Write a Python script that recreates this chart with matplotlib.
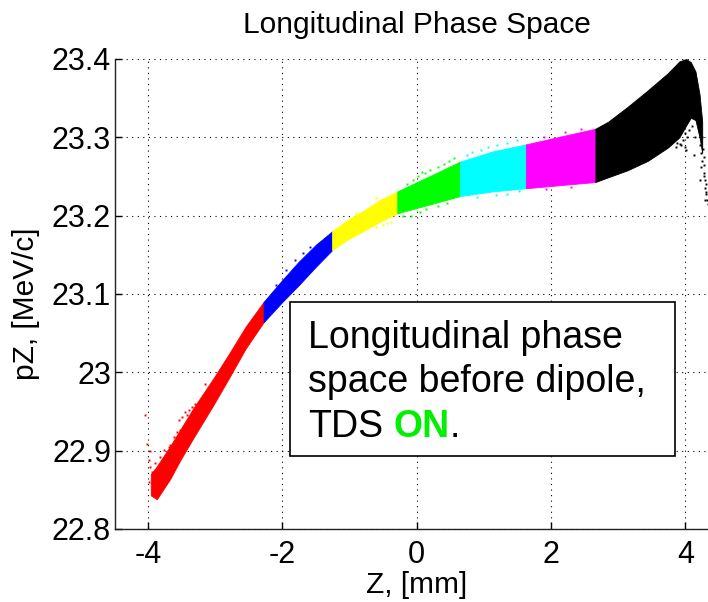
import numpy as np
import matplotlib
matplotlib.use("Agg")
import matplotlib.pyplot as plt
from matplotlib.patches import Rectangle

plt.rcParams['font.family'] = ['Liberation Sans', 'DejaVu Sans']

# Beam slices along Z [mm] and their colours
slice_edges = [-3.96, -2.28, -1.26, -0.29, 0.645, 1.625, 2.66, 4.25]
slice_colors = ['#ff0000', '#0000ff', '#ffff00', '#00ff00', '#00ffff', '#ff00ff', '#000000']

# Envelope of the particle cloud: Z [mm], lower / upper pZ [MeV/c]
env_z = [-3.96, -3.87, -3.67, -3.52, -3.32, -3.03, -2.80, -2.55, -2.28,
         -2.00, -1.76, -1.50, -1.26, -1.02, -0.78, -0.55, -0.29, 0.18,
         0.645, 1.13, 1.625, 2.14, 2.66, 2.85, 3.14, 3.44, 3.74, 3.91,
         4.01, 4.08, 4.15, 4.21, 4.25]
env_low = [22.843, 22.838, 22.864, 22.888, 22.917, 22.958, 22.992, 23.030, 23.064,
           23.090, 23.111, 23.135, 23.156, 23.170, 23.181, 23.192, 23.203, 23.214,
           23.225, 23.231, 23.235, 23.239, 23.243, 23.249, 23.258, 23.270, 23.287, 23.300,
           23.315, 23.325, 23.322, 23.300, 23.280]
env_up = [22.870, 22.880, 22.906, 22.927, 22.955, 22.992, 23.023, 23.058, 23.090,
          23.118, 23.141, 23.163, 23.180, 23.195, 23.207, 23.220, 23.231, 23.250,
          23.269, 23.282, 23.291, 23.301, 23.311, 23.320, 23.339, 23.360, 23.382, 23.397,
          23.400, 23.396, 23.384, 23.355, 23.320]

# Stray particles outside the dense core
halo_z = [-4.043, -4.018, -3.993, -3.969, -3.944, -3.919, -3.894, -3.845, -3.820,
          -3.795, -3.770, -3.745, -3.696, -3.671, -3.621, -3.597, -3.572, -3.547,
          -3.522, -3.497, -3.448, -3.423, -3.398, -3.349, -3.299, -3.15, -3.97, -3.99,
          -2.10, -1.94, -1.82, -1.70, -1.59,
          -0.90, -0.60, -0.60, -0.50, -0.44, -0.38,
          -0.20, -0.15, -0.09, -0.05, 0.02, 0.05, 0.08, 0.12, 0.14, 0.20, 0.31, 0.31,
          0.40, 0.45, 0.48, 0.55,
          0.75, 0.83, 0.90, 0.95, 1.06, 1.18, 1.20, 1.35, 1.35, 1.50, 1.52,
          1.90, 1.93, 2.21, 2.30, 2.45,
          3.86, 3.88, 3.92, 3.94, 3.96, 3.99, 4.00, 4.01, 4.02, 4.05, 4.10, 4.13, 4.14,
          4.20, 4.21, 4.22, 4.23, 4.235, 4.24, 4.25, 4.26, 4.27, 4.27, 4.28, 4.28,
          4.29, 4.29, 4.29, 4.30, 4.31, 4.31, 4.32, 4.33]
halo_pz = [22.945, 22.909, 22.888, 22.879, 22.873, 22.864, 22.884, 22.879, 22.892,
           22.875, 22.901, 22.888, 22.905, 22.907, 22.918, 22.911, 22.924, 22.939,
           22.926, 22.943, 22.950, 22.945, 22.952, 22.956, 22.960, 22.985, 22.900, 22.860,
           23.112, 23.131, 23.143, 23.152, 23.160,
           23.203, 23.222, 23.186, 23.188, 23.190, 23.192,
           23.199, 23.241, 23.200, 23.245, 23.250, 23.205, 23.256, 23.254, 23.208, 23.258,
           23.262, 23.212, 23.266, 23.216, 23.270, 23.273,
           23.278, 23.281, 23.224, 23.284, 23.288, 23.226, 23.290, 23.293, 23.228, 23.296,
           23.231,
           23.301, 23.234, 23.307, 23.237, 23.311,
           23.288, 23.293, 23.292, 23.290, 23.296, 23.288, 23.305, 23.284, 23.300, 23.310,
           23.315, 23.277, 23.300,
           23.310, 23.245, 23.290, 23.280, 23.262, 23.300, 23.270, 23.285, 23.265, 23.255,
           23.250, 23.275, 23.245, 23.235, 23.220, 23.240, 23.228, 23.230, 23.220, 23.215]

x_ticks = [-4, -2, 0, 2, 4]
y_ticks = [22.8, 22.9, 23.0, 23.1, 23.2, 23.3, 23.4]
y_tick_labels = ['22.8', '22.9', '23', '23.1', '23.2', '23.3', '23.4']

W, H = 708, 602
fig = plt.figure(figsize=(W / 100, H / 100), dpi=100)
ax = fig.add_axes([114.5 / W, 73 / H, 604.5 / W, 470 / H])

z = np.asarray(env_z)
lo = np.asarray(env_low)
up = np.asarray(env_up)
for i, color in enumerate(slice_colors):
    m = (z >= slice_edges[i] - 1e-9) & (z <= slice_edges[i + 1] + 1e-9)
    ax.fill_between(z[m], lo[m], up[m], facecolor=color, edgecolor=color,
                    linewidth=0.6, zorder=2)

hz = np.asarray(halo_z)
hp = np.asarray(halo_pz)
idx = np.clip(np.digitize(hz, slice_edges) - 1, 0, len(slice_colors) - 1)
for i, color in enumerate(slice_colors):
    m = idx == i
    ax.plot(hz[m], hp[m], ls='none', marker='s', ms=1.4, mew=0, color=color, zorder=2)

ax.set_xlim(-4.5, 4.5)
ax.set_ylim(22.8, 23.4)
ax.set_xticks(x_ticks)
ax.set_xticklabels([str(t) for t in x_ticks])
ax.set_yticks(y_ticks)
ax.set_yticklabels(y_tick_labels)

ax.set_axisbelow(True)
ax.grid(True, color='k', linestyle=(0, (1, 4)), linewidth=0.8)
for s in ('top', 'right'):
    ax.spines[s].set_visible(False)
for s in ('left', 'bottom'):
    ax.spines[s].set_linewidth(1.0)
    ax.spines[s].set_color('#222222')
ax.tick_params(axis='both', direction='in', length=5, width=1, labelsize=22,
               top=False, right=False)
ax.tick_params(axis='x', pad=8)
ax.tick_params(axis='y', pad=2.5)

ax.set_title('Longitudinal Phase Space', fontsize=21.5, pad=18.5)
ax.set_xlabel('Z, [mm]', fontsize=21.5)
ax.xaxis.set_label_coords(0.5, -0.089)
ax.set_ylabel('pZ, [MeV/c]', fontsize=21.5)
ax.yaxis.set_label_coords(-0.123, 0.48)

# Annotation box
ax.add_patch(Rectangle((290 / W, 1 - 456 / H), 385 / W, 154 / H,
                       transform=fig.transFigure, facecolor='white',
                       edgecolor='black', linewidth=1.2, zorder=5, clip_on=False))
tx = 308 / W
fs = 27
ax.text(tx, 1 - 348.3 / H, 'Longitudinal phase', transform=fig.transFigure,
        fontsize=fs, va='baseline', ha='left', zorder=6)
ax.text(tx, 1 - 391.7 / H, 'space before dipole,', transform=fig.transFigure,
        fontsize=fs, va='baseline', ha='left', zorder=6)
t3 = ax.text(tx, 1 - 436.7 / H, 'TDS', transform=fig.transFigure,
             fontsize=fs, va='baseline', ha='left', zorder=6)
t4 = ax.annotate('ON', xy=(1, 0), xycoords=t3, xytext=(0.278 * fs, 0),
                 textcoords='offset points', fontsize=fs, fontweight='bold',
                 color='#00f000', va='bottom', ha='left', zorder=6)
ax.annotate('.', xy=(1, 0), xycoords=t4, fontsize=fs, va='bottom', ha='left', zorder=6)

fig.savefig('out.png', dpi=100)
